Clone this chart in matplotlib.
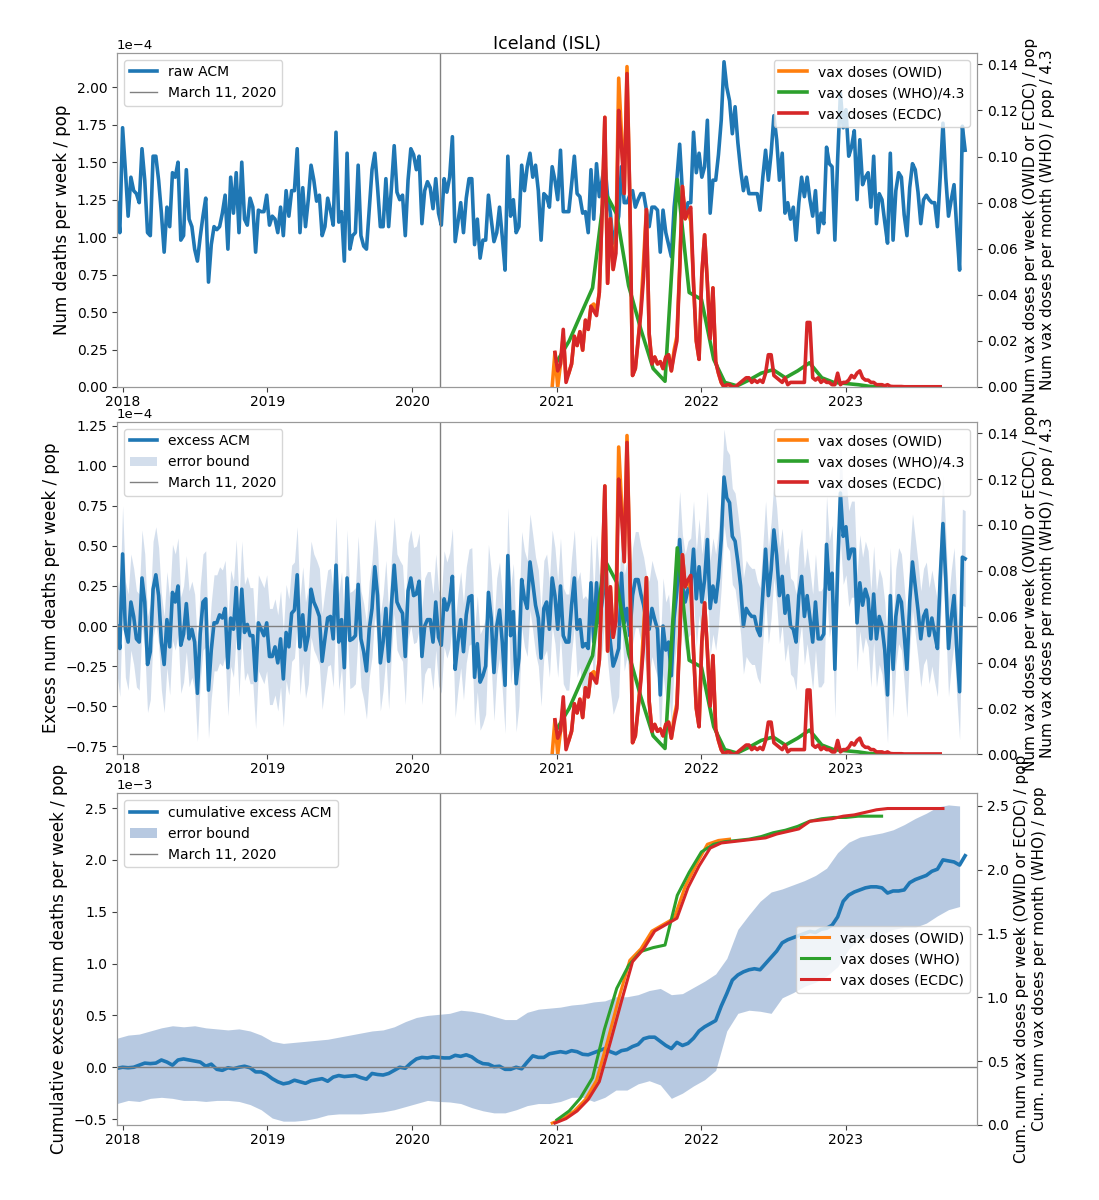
import numpy as np
import pandas as pd
import matplotlib
matplotlib.use("Agg")
import matplotlib.pyplot as plt
import matplotlib.dates as mdates

# ---- data ----
# weekly all-cause mortality / pop, units of 1e-4
raw_acm = [
    1.23, 1.03, 1.73, 1.45, 1.14, 1.40, 1.31, 1.29, 1.23, 1.59, 1.38, 1.03, 1.01, 1.54, 1.54, 1.38,
    1.16, 0.90, 1.20, 1.07, 1.43, 1.40, 1.50, 0.98, 1.01, 1.45, 1.12, 1.07, 0.92, 0.84, 1.00, 1.14,
    1.26, 0.70, 0.95, 1.07, 1.05, 1.07, 1.16, 1.28, 0.92, 1.40, 1.16, 1.43, 1.03, 1.50, 1.12, 1.08,
    1.26, 1.20, 0.90, 1.18, 1.17, 1.17, 1.28, 1.08, 1.14, 1.12, 1.03, 1.20, 1.01, 1.31, 1.14, 1.31,
    1.31, 1.59, 1.03, 1.33, 1.07, 1.25, 1.48, 1.38, 1.24, 1.28, 1.01, 1.07, 1.26, 1.18, 1.08, 1.70,
    1.10, 1.17, 0.84, 1.56, 0.92, 1.01, 1.03, 1.48, 1.01, 0.94, 0.92, 1.18, 1.45, 1.56, 1.33, 1.07,
    1.07, 1.39, 1.07, 1.33, 1.61, 1.30, 1.25, 1.28, 1.01, 1.38, 1.59, 1.55, 1.45, 1.54, 1.09, 1.31,
    1.37, 1.33, 1.19, 1.39, 1.16, 1.08, 1.39, 1.30, 1.40, 1.67, 0.97, 1.10, 1.23, 1.03, 1.26, 1.39,
    1.39, 0.95, 1.12, 0.86, 0.98, 0.98, 1.28, 1.12, 0.97, 1.03, 1.20, 1.00, 0.78, 1.54, 1.14, 1.25,
    1.03, 1.07, 1.48, 1.31, 1.47, 1.56, 1.40, 1.48, 1.31, 0.98, 1.29,
    1.27, 1.20, 1.47, 1.38, 1.25, 1.58, 1.17, 1.17, 1.17, 1.35,
    1.54, 1.29, 1.27, 1.16, 1.17, 1.03, 1.45, 1.12, 1.49, 1.27,
    1.38, 1.50, 1.27, 1.16, 0.96, 1.05, 1.14, 1.47, 1.23, 1.23,
    1.28, 1.31, 1.20, 1.25, 1.29, 1.29, 1.18, 1.07, 1.20, 1.20,
    1.18, 0.90, 1.18, 1.03, 0.95, 0.87, 1.20, 1.39, 1.62, 1.30,
    1.14, 1.23, 1.23, 1.70, 1.43, 1.56, 1.40, 1.47, 1.78, 1.16,
    1.38, 1.38, 1.55, 1.78, 2.17, 2.00, 1.91, 1.69, 1.87, 1.63,
    1.45, 1.31, 1.40, 1.29, 1.29, 1.29, 1.29, 1.18, 1.40, 1.58,
    1.38, 1.56, 1.81, 1.65, 1.38, 1.56, 1.16, 1.23, 1.12, 1.20,
    0.98, 1.23, 1.40, 1.27, 1.40, 1.25, 1.14, 1.31, 1.03, 1.16,
    1.09, 1.60, 1.49, 1.47, 0.98, 1.52, 1.96, 1.73, 1.85, 1.54,
    1.60, 1.71, 1.25, 1.65, 1.35, 1.40, 1.43, 1.20, 1.54, 1.09,
    1.29, 1.25, 1.10, 0.96, 1.56, 0.98, 1.31, 1.43, 1.40, 1.15,
    1.01, 1.33, 1.49, 1.45, 1.30, 1.09, 1.25, 1.28, 1.25, 1.23,
    1.23, 1.07, 1.40, 1.76, 1.40, 1.14, 1.25, 1.35, 1.05, 0.78,
    1.74, 1.58,
]

# weekly excess ACM / pop, units of 1e-4
excess_acm = [
    0.00, -0.14, 0.45, -0.02, -0.10, 0.15, 0.06, -0.08, -0.10, 0.30,
    0.15, -0.24, -0.16, 0.23, 0.32, 0.19, -0.10, -0.24, 0.04, -0.13,
    0.21, 0.15, 0.25, -0.12, -0.05, 0.14, -0.08, -0.02, -0.10, -0.42,
    -0.05, 0.15, 0.17, -0.40, -0.15, 0.02, 0.02, 0.07, 0.05, 0.11,
    -0.26, 0.05, -0.02, 0.24, -0.14, 0.23, -0.04, 0.01, -0.06, -0.06,
    -0.34, 0.02, -0.02, -0.06, 0.02, -0.19, -0.19, -0.13, -0.23, -0.08,
    -0.33, -0.04, -0.13, 0.08, 0.10, 0.32, -0.13, 0.07, -0.15, -0.06,
    0.23, 0.15, 0.11, 0.06, -0.22, -0.08, 0.05, 0.06, -0.08, 0.38,
    -0.10, 0.04, -0.26, 0.30, -0.09, -0.08, -0.06, 0.26, -0.08, -0.16,
    -0.28, -0.02, 0.11, 0.37, 0.19, -0.23, -0.10, 0.11, -0.22, 0.13,
    0.38, 0.15, 0.11, 0.08, -0.19, 0.22, 0.30, 0.19, 0.20, 0.28,
    -0.19, 0.00, 0.04, 0.04, -0.10, 0.15, -0.07, -0.12, 0.17, 0.10,
    0.16, 0.31, -0.27, -0.10, 0.04, -0.16, 0.07, 0.18, 0.19, -0.32,
    -0.11, -0.35, -0.31, -0.25, 0.21, 0.05, -0.29, 0.00, 0.10, -0.10,
    -0.37, 0.44, -0.06, 0.09, -0.36, -0.20, 0.29, 0.17, 0.11, 0.40,
    0.27, 0.13, 0.05, -0.20, 0.11,
    0.15, -0.02, 0.30, 0.19, -0.02, 0.25, -0.06, -0.10, -0.10, 0.13,
    0.30, -0.02, 0.04, -0.13, -0.11, -0.14, 0.27, -0.10, 0.27, 0.02,
    0.15, 0.35, 0.08, -0.10, -0.25, -0.20, -0.14, 0.33, 0.02, 0.11,
    -0.06, 0.19, 0.29, 0.29, 0.20, 0.13, 0.02, -0.02, 0.11, 0.04,
    -0.02, -0.43, 0.00, -0.15, -0.10, -0.31, 0.05, 0.22, 0.54, 0.27,
    0.15, 0.23, 0.25, 0.48, 0.17, 0.37, 0.15, 0.29, 0.54, 0.11,
    0.25, 0.15, 0.30, 0.54, 0.93, 0.80, 0.77, 0.56, 0.53, 0.40,
    0.25, 0.00, 0.11, 0.08, 0.06, 0.06, -0.02, -0.06, 0.20, 0.48,
    0.19, 0.35, 0.60, 0.44, 0.19, 0.31, 0.08, 0.19, 0.00, -0.02,
    -0.10, 0.19, 0.31, 0.06, 0.19, 0.05, -0.10, 0.15, -0.08, -0.08,
    -0.05, 0.51, 0.23, 0.33, -0.27, 0.37, 0.83, 0.56, 0.62, 0.42,
    0.48, 0.48, 0.02, 0.27, 0.13, 0.23, 0.17, -0.08, 0.20, -0.08,
    0.06, 0.00, -0.15, -0.43, 0.19, -0.27, 0.06, 0.19, 0.15, -0.05,
    -0.27, 0.15, 0.40, 0.25, 0.10, -0.08, 0.06, 0.10, -0.06, 0.05,
    -0.05, -0.14, 0.30, 0.64, 0.30, -0.14, 0.05, 0.19, -0.15, -0.41,
    0.43, 0.42,
]
excess_err = 0.30  # half width of the weekly error bound, 1e-4

# cumulative excess ACM / pop (every 2 weeks), units of 1e-3
cum_excess = [
    -0.01, 0.00, -0.005, 0.00, 0.02, 0.04, 0.035, 0.04, 0.07, 0.05,
    0.02, 0.07, 0.08, 0.07, 0.06, 0.05, 0.01, 0.03, -0.02, -0.03,
    -0.005, -0.015, 0.00, 0.01, -0.005, -0.045, -0.045, -0.07, -0.11, -0.14,
    -0.16, -0.15, -0.125, -0.14, -0.155, -0.13, -0.12, -0.11, -0.135, -0.095,
    -0.08, -0.09, -0.085, -0.08, -0.10, -0.115, -0.06, -0.07, -0.075, -0.06,
    -0.03, 0.00, -0.01, 0.04, 0.08, 0.095, 0.09, 0.10, 0.095, 0.09,
    0.09, 0.115, 0.105, 0.12, 0.10, 0.06, 0.035, 0.03, 0.005, 0.01,
    -0.02, -0.02, 0.00, -0.015, 0.05, 0.11, 0.095, 0.095, 0.13, 0.14,
    0.15, 0.14, 0.16, 0.15, 0.125, 0.12, 0.14, 0.16, 0.18, 0.15,
    0.13, 0.16, 0.17, 0.20, 0.22, 0.275, 0.29, 0.29, 0.25, 0.21,
    0.18, 0.24, 0.21, 0.23, 0.28, 0.35, 0.39, 0.42, 0.45, 0.59,
    0.71, 0.84, 0.89, 0.92, 0.94, 0.95, 0.94, 1.00, 1.06, 1.12,
    1.20, 1.23, 1.25, 1.27, 1.29, 1.31, 1.30, 1.33, 1.34, 1.37,
    1.45, 1.60, 1.66, 1.69, 1.71, 1.73, 1.74, 1.74, 1.73, 1.68,
    1.70, 1.70, 1.71, 1.78, 1.81, 1.83, 1.85, 1.89, 1.91, 2.00,
    1.99, 1.98, 1.95, 2.04,
]
# error bound of the cumulative excess (every 4 weeks), units of 1e-3
cum_upper = [
    0.28, 0.31, 0.32, 0.35, 0.38, 0.40, 0.39, 0.40, 0.38, 0.37, 0.36, 0.37, 0.35, 0.31, 0.25, 0.23,
    0.24, 0.25, 0.26, 0.27, 0.29, 0.31, 0.33, 0.35, 0.36, 0.39, 0.44, 0.48, 0.50, 0.51, 0.52, 0.55,
    0.54, 0.52, 0.49, 0.46, 0.46, 0.53, 0.56, 0.57, 0.58, 0.60, 0.61, 0.63, 0.64, 0.68, 0.68, 0.70,
    0.74, 0.76, 0.70, 0.71, 0.77, 0.83, 0.90, 1.05, 1.33, 1.47, 1.60, 1.69, 1.72, 1.76, 1.80, 1.85,
    1.92, 2.07, 2.17, 2.22, 2.24, 2.26, 2.29, 2.34, 2.40, 2.45, 2.51, 2.53, 2.52,
]
cum_lower = [
    -0.35, -0.32, -0.33, -0.30, -0.29, -0.30, -0.32, -0.32, -0.33, -0.32, -0.32, -0.33, -0.36, -0.41, -0.49, -0.52,
    -0.52, -0.51, -0.49, -0.46, -0.45, -0.45, -0.45, -0.44, -0.43, -0.41, -0.38, -0.35, -0.32, -0.33, -0.335, -0.35,
    -0.39, -0.42, -0.44, -0.44, -0.41, -0.37, -0.35, -0.35, -0.33, -0.29, -0.29, -0.33, -0.29, -0.22, -0.22, -0.16,
    -0.13, -0.17, -0.30, -0.25, -0.18, -0.12, -0.03, 0.35, 0.52, 0.55, 0.54, 0.52, 0.67, 0.72, 0.78, 0.82,
    0.88, 0.97, 1.14, 1.24, 1.25, 1.28, 1.33, 1.35, 1.35, 1.39, 1.46, 1.52, 1.55,
]

# weekly vax doses / pop
ecdc_weekly = [
    0.015, 0.007, 0.010, 0.025, 0.002, 0.006, 0.010, 0.022, 0.018, 0.024,
    0.016, 0.029, 0.025, 0.035, 0.033, 0.031, 0.041, 0.075, 0.117, 0.045,
    0.073, 0.051, 0.058, 0.120, 0.105, 0.084, 0.136, 0.083, 0.005, 0.008,
    0.020, 0.032, 0.048, 0.077, 0.023, 0.010, 0.013, 0.010, 0.011, 0.008,
    0.013, 0.014, 0.007, 0.014, 0.020, 0.050, 0.087, 0.073, 0.076, 0.078,
    0.045, 0.020, 0.012, 0.049, 0.066, 0.045, 0.021, 0.043, 0.011, 0.006,
    0.002, 0.000, 0.001, 0.001, 0.000, 0.000, 0.001, 0.002, 0.003, 0.004,
    0.004, 0.002, 0.003, 0.002, 0.003, 0.002, 0.006, 0.014, 0.014, 0.005,
    0.004, 0.003, 0.002, 0.004, 0.001, 0.002, 0.002, 0.002, 0.002, 0.002,
    0.002, 0.028, 0.028, 0.004, 0.003, 0.004, 0.002, 0.003, 0.002, 0.002,
    0.001, 0.001, 0.006, 0.001, 0.002, 0.002, 0.003, 0.005, 0.004, 0.006,
    0.007, 0.004, 0.003, 0.003, 0.002, 0.002, 0.001, 0.001, 0.001, 0.0005,
    0.001, 0.0003, 0.0002, 0.0002, 0.0002, 0.0002, 0.0001, 0.0001, 0.0001, 0.0001,
    0.0001, 0.0001, 0.0001, 0.0001, 0.0001, 0.0001, 0.0001, 0.0001, 0.0001, 0.0001,
]
owid_weekly = [
    0.000, 0.015, 0.000, 0.010, 0.022, 0.004, 0.006, 0.010, 0.022, 0.018,
    0.024, 0.016, 0.029, 0.025, 0.035, 0.036, 0.033, 0.041, 0.075, 0.117,
    0.045, 0.073, 0.051, 0.062, 0.134, 0.110, 0.084, 0.139, 0.083, 0.005,
    0.008, 0.020, 0.034, 0.055, 0.077, 0.023, 0.010, 0.013, 0.010, 0.011,
    0.008, 0.013, 0.014, 0.007, 0.016, 0.022, 0.052, 0.087, 0.073, 0.076,
    0.072, 0.045, 0.020, 0.012, 0.049, 0.066, 0.045, 0.021, 0.043, 0.011,
    0.006, 0.002, 0.000, 0.001, 0.001, 0.000, 0.000,
]
# monthly WHO doses / pop / 4.3
who_monthly = [
    0.011, 0.020, 0.031, 0.043, 0.085, 0.075, 0.044, 0.025, 0.008, 0.0025,
    0.090, 0.041, 0.038, 0.012, 0.002, 0.0005, 0.003, 0.006, 0.0075, 0.004,
    0.007, 0.0105, 0.004, 0.002, 0.0015, 0.001, 0.0003, 0.0,
]

# cumulative vax doses / pop
ecdc_cum = [
    0.015, 0.05, 0.11, 0.20, 0.34, 0.65, 0.97, 1.28, 1.38, 1.52, 1.57, 1.62,
    1.86, 2.03, 2.17, 2.21, 2.22, 2.23, 2.24, 2.25, 2.28, 2.30, 2.32, 2.38,
    2.39, 2.40, 2.42, 2.43, 2.45, 2.47, 2.48, 2.48, 2.48, 2.48, 2.48, 2.48,
]
owid_cum = [
    0.015, 0.05, 0.11, 0.20, 0.35, 0.66, 0.99, 1.29, 1.38, 1.52, 1.57, 1.62,
    1.87, 2.04, 2.20, 2.23, 2.24,
]
who_cum = [
    0.04, 0.11, 0.21, 0.37, 0.75, 1.07, 1.25, 1.36, 1.39, 1.41, 1.80, 1.98,
    2.14, 2.20, 2.22, 2.23, 2.24, 2.26, 2.29, 2.31, 2.34, 2.38, 2.40, 2.41,
    2.41, 2.42, 2.42, 2.42,
]

acm_start = "2017-12-17"
vax_start = "2020-12-27"
owid_start = "2020-12-20"
who_start = "2021-01-01"
pandemic_day = pd.Timestamp("2020-03-11")
x_end = pd.Timestamp("2023-11-28")

# ---- dates ----
acm_dates = pd.date_range(acm_start, periods=len(raw_acm), freq="7D")
exc_dates = pd.date_range(acm_start, periods=len(excess_acm), freq="7D")
cum_dates = pd.date_range(acm_start, periods=len(cum_excess), freq="14D")
band_dates = pd.date_range(acm_start, periods=len(cum_upper), freq="28D")
ecdc_dates = pd.date_range(vax_start, periods=len(ecdc_weekly), freq="7D")
owid_dates = pd.date_range(owid_start, periods=len(owid_weekly), freq="7D")
who_dates = pd.date_range(who_start, periods=len(who_monthly), freq="MS")
ecdc_cum_dates = pd.date_range(vax_start, periods=len(ecdc_cum), freq="28D")
owid_cum_dates = pd.date_range(owid_start, periods=len(owid_cum), freq="28D")

blue = "tab:blue"
band = "lightsteelblue"
lw = 2.6

plt.rcParams["font.size"] = 10

fig = plt.figure(figsize=(10.99, 12.0), dpi=100)
left, width = 0.1065, 0.7825
ax1 = fig.add_axes([left, 0.6775, width, 0.2785])
ax2 = fig.add_axes([left, 0.3715, width, 0.277])
ax3 = fig.add_axes([left, 0.0625, width, 0.2765])


def style(ax):
    for s in ax.spines.values():
        s.set_color("0.6")
    ax.tick_params(colors="0.25", labelcolor="black", labelsize=10)
    ax.tick_params(axis="x", pad=2)
    ax.xaxis.set_major_locator(mdates.YearLocator())
    ax.xaxis.set_major_formatter(mdates.DateFormatter("%Y"))
    ax.set_xlim(acm_dates[0], x_end)
    ax.yaxis.get_offset_text().set_fontsize(9.5)


def vax_lines(axr, who_label):
    axr.plot(owid_dates, owid_weekly, color="tab:orange", lw=lw, label="vax doses (OWID)")
    axr.plot(who_dates, who_monthly, color="tab:green", lw=lw, label=who_label)
    axr.plot(ecdc_dates, ecdc_weekly, color="tab:red", lw=lw, label="vax doses (ECDC)")


vax_label = ("Num vax doses per week (OWID or ECDC) / pop\n"
             "Num vax doses per month (WHO) / pop / 4.3")

# ---- top: raw ACM ----
ax1.plot(acm_dates, np.array(raw_acm) * 1e-4, color=blue, lw=lw, label="raw ACM")
ax1.axvline(pandemic_day, color="gray", lw=1, label="March 11, 2020")
ax1.set_ylim(0, 2.23e-4)
ax1.ticklabel_format(axis="y", style="sci", scilimits=(0, 0))
ax1.set_ylabel("Num deaths per week / pop", fontsize=12)
ax1.set_title("Iceland (ISL)", fontsize=12.5, pad=2)
ax1.legend(loc="upper left", fontsize=10)
ax1r = ax1.twinx()
vax_lines(ax1r, "vax doses (WHO)/4.3")
ax1r.set_ylim(0, 0.145)
ax1r.set_ylabel(vax_label, fontsize=11)
ax1r.legend(loc="upper right", fontsize=10)
style(ax1)
style(ax1r)

# ---- middle: excess ACM ----
exc = np.array(excess_acm) * 1e-4
ax2.plot(exc_dates, exc, color=blue, lw=lw, label="excess ACM")
ax2.fill_between(exc_dates, exc - excess_err * 1e-4, exc + excess_err * 1e-4,
                 color=band, alpha=0.55, lw=0, label="error bound")
ax2.axvline(pandemic_day, color="gray", lw=1, label="March 11, 2020")
ax2.axhline(0, color="gray", lw=1)
ax2.set_ylim(-0.80e-4, 1.275e-4)
ax2.ticklabel_format(axis="y", style="sci", scilimits=(0, 0))
ax2.set_ylabel("Excess num deaths per week / pop", fontsize=12)
ax2.legend(loc="upper left", fontsize=10)
ax2r = ax2.twinx()
vax_lines(ax2r, "vax doses (WHO)/4.3")
ax2r.set_ylim(0, 0.145)
ax2r.set_ylabel(vax_label, fontsize=11)
ax2r.legend(loc="upper right", fontsize=10)
style(ax2)
style(ax2r)

# ---- bottom: cumulative ----
ax3.plot(cum_dates, np.array(cum_excess) * 1e-3, color=blue, lw=lw, label="cumulative excess ACM")
ax3.fill_between(band_dates, np.array(cum_lower) * 1e-3, np.array(cum_upper) * 1e-3,
                 color=band, alpha=0.9, lw=0, label="error bound")
ax3.axvline(pandemic_day, color="gray", lw=1, label="March 11, 2020")
ax3.axhline(0, color="gray", lw=1)
ax3.set_ylim(-0.557e-3, 2.643e-3)
ax3.ticklabel_format(axis="y", style="sci", scilimits=(0, 0))
ax3.set_ylabel("Cumulative excess num deaths per week / pop", fontsize=12)
ax3.legend(loc="upper left", fontsize=10)
ax3r = ax3.twinx()
ax3r.plot(owid_cum_dates, owid_cum, color="tab:orange", lw=2.2, label="vax doses (OWID)")
ax3r.plot(who_dates, who_cum, color="tab:green", lw=2.2, label="vax doses (WHO)")
ax3r.plot(ecdc_cum_dates, ecdc_cum, color="tab:red", lw=2.2, label="vax doses (ECDC)")
ax3r.set_ylim(0, 2.6)
ax3r.set_ylabel("Cum. num vax doses per week (OWID or ECDC) / pop\n"
                "Cum. num vax doses per month (WHO) / pop", fontsize=11)
ax3r.legend(loc="center right", fontsize=10)
style(ax3)
style(ax3r)

fig.savefig("out.png", dpi=100)
